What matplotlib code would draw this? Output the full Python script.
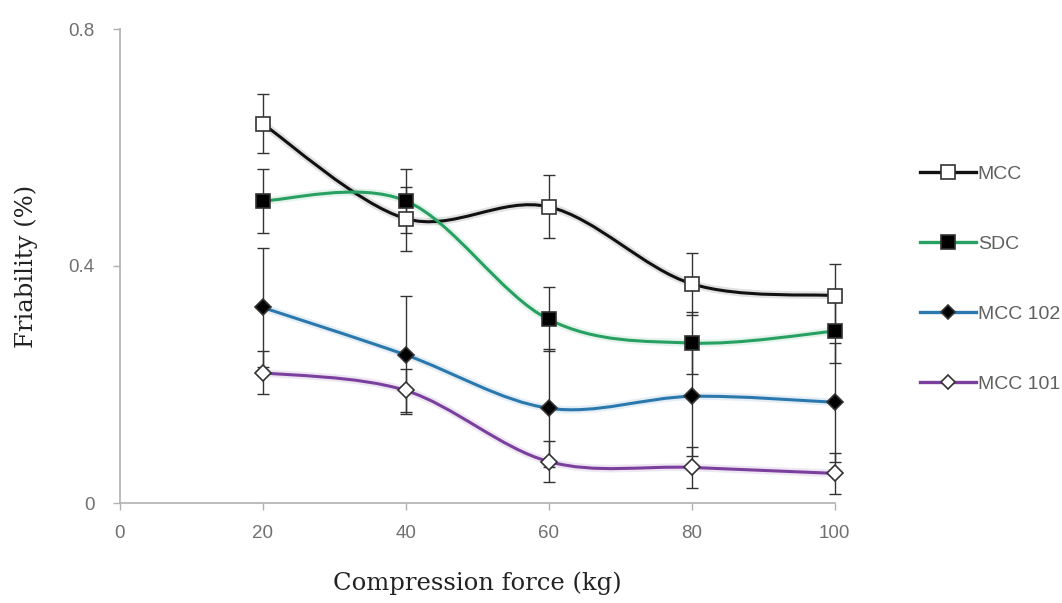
import matplotlib
matplotlib.use("Agg")
import matplotlib.pyplot as plt
import numpy as np
from matplotlib.path import Path
from matplotlib.patches import PathPatch
from matplotlib.lines import Line2D

force = [20, 40, 60, 80, 100]

mcc = [0.64, 0.48, 0.50, 0.37, 0.35]
sdc = [0.51, 0.51, 0.31, 0.27, 0.29]
mcc102 = [0.33, 0.25, 0.16, 0.18, 0.17]
mcc101 = [0.22, 0.19, 0.07, 0.06, 0.05]

mcc_err = [0.05, 0.054, 0.053, 0.052, 0.053]
sdc_err = [0.054, 0.054, 0.054, 0.053, 0.054]
mcc102_err = [0.10, 0.10, 0.10, 0.10, 0.10]
mcc101_err = [0.036, 0.036, 0.034, 0.035, 0.035]

labels = ["MCC", "SDC", "MCC 102", "MCC 101"]


def smooth_path(x, y):
    """Bezier path through the points, like a spreadsheet's smoothed line."""
    pts = np.column_stack([x, y]).astype(float)
    ext = np.vstack([pts[0], pts, pts[-1]])
    verts = [pts[0]]
    codes = [Path.MOVETO]
    for i in range(len(pts) - 1):
        p0, p1, p2, p3 = ext[i], ext[i + 1], ext[i + 2], ext[i + 3]
        c1 = p1 + (p2 - p0) / 6.0
        c2 = p2 - (p3 - p1) / 6.0
        verts += [c1, c2, p2]
        codes += [Path.CURVE4] * 3
    return Path(verts, codes)


def draw_series(ax, y, err, color, marker, face, ms):
    path = smooth_path(force, y)
    # soft glow under the line
    ax.add_patch(PathPatch(path, facecolor="none", edgecolor=color, lw=5.5,
                           alpha=0.12, capstyle="round", zorder=2))
    ax.add_patch(PathPatch(path, facecolor="none", edgecolor=color, lw=2.2,
                           capstyle="round", zorder=3))
    ax.errorbar(force, y, yerr=err, fmt="none", ecolor="#333333",
                elinewidth=1.0, capsize=4.6, capthick=1.0, zorder=4,
                clip_on=False)
    ax.plot(force, y, ls="none", marker=marker, ms=ms, mfc=face,
            mec="#333333", mew=1.2, zorder=5, clip_on=False)


fig = plt.figure(figsize=(10.62, 6.03), dpi=100)
ax = fig.add_axes([119.6 / 1062, 1 - 503 / 603, 715 / 1062, 474 / 603])

styles = [
    (mcc, mcc_err, "#111111", "s", "white", 10.5),
    (sdc, sdc_err, "#27a062", "s", "black", 10.5),
    (mcc102, mcc102_err, "#2a78ad", "D", "black", 8.5),
    (mcc101, mcc101_err, "#7b3f9e", "D", "white", 8.5),
]
for y, err, color, marker, face, ms in styles:
    draw_series(ax, y, err, color, marker, face, ms)

ax.set_xlim(0, 100)
ax.set_ylim(0, 0.8)
ax.set_xticks([0, 20, 40, 60, 80, 100])
ax.set_yticks([0, 0.4, 0.8])
ax.set_yticklabels(["0", "0.4", "0.8"])

for side in ("top", "right"):
    ax.spines[side].set_visible(False)
for side in ("left", "bottom"):
    ax.spines[side].set_color("#b0b0b0")
    ax.spines[side].set_linewidth(1.2)
ax.tick_params(direction="out", length=5, width=1, color="#b0b0b0",
               labelcolor="#707070", labelsize=13.5)
ax.tick_params(axis="x", pad=11)
ax.tick_params(axis="y", pad=13)
for lab in ax.get_xticklabels() + ax.get_yticklabels():
    lab.set_family("Liberation Sans")

fig.text(477 / 1062, 1 - 583 / 603, "Compression force (kg)",
         family="DejaVu Serif", fontsize=17.5, color="#222222",
         ha="center", va="center")
fig.text(26 / 1062, 1 - 266 / 603, "Friability (%)", family="DejaVu Serif",
         fontsize=17.5, color="#222222", ha="center", va="center",
         rotation=90)

handles = []
for (y, err, color, marker, face, ms), lab in zip(styles, labels):
    handles.append(Line2D([], [], color=color, lw=2.4, marker=marker,
                          ms=ms if marker == "s" else 7, mfc=face,
                          mec="#333333", mew=1.2))
leg = fig.legend(handles, labels, loc="center left",
                 bbox_to_anchor=(902 / 1062, 1 - 279 / 603),
                 frameon=False, handlelength=2.9, handletextpad=0.1,
                 labelspacing=2.7, prop={"family": "Liberation Sans",
                                         "size": 14})
for t in leg.get_texts():
    t.set_color("#606060")

fig.savefig("out.png", dpi=100)
